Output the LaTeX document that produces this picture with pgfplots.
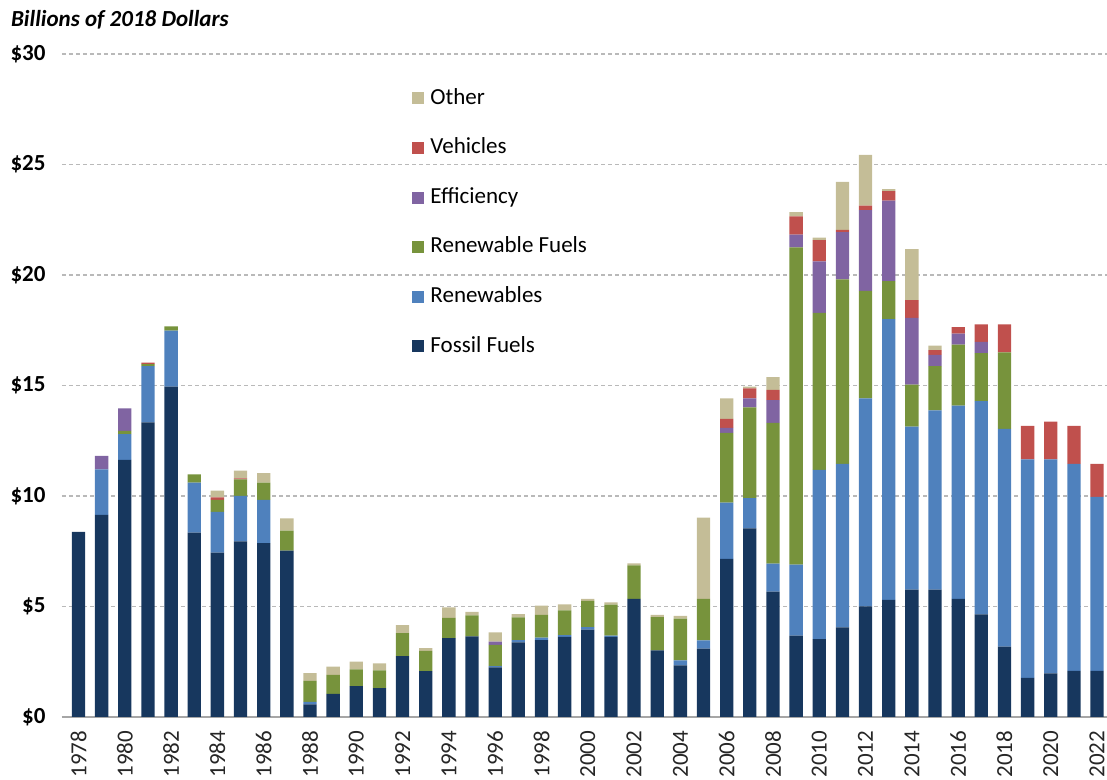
\documentclass[border=0pt]{standalone}
\usepackage{fontspec}
\setmainfont{Carlito}
\usepackage{pgfplots}
\usepackage{pgfplotstable}
\pgfplotsset{compat=1.18}
\definecolor{cfossil}{RGB}{23,55,94}
\definecolor{crenew}{RGB}{79,129,189}
\definecolor{crfuel}{RGB}{119,147,60}
\definecolor{ceff}{RGB}{128,100,162}
\definecolor{cveh}{RGB}{192,80,77}
\definecolor{cother}{RGB}{196,189,151}
\pgfplotstableread{
year fossil renew rfuel eff veh other
1978 8.38 0 0 0 0 0
1979 9.15 2.05 0 0.62 0 0
1980 11.63 1.17 0.15 1.02 0 0
1981 13.33 2.55 0.09 0 0.06 0
1982 14.95 2.53 0.2 0 0 0
1983 8.34 2.26 0.38 0 0 0
1984 7.44 1.84 0.54 0 0.12 0.3
1985 7.95 2.05 0.75 0 0.05 0.35
1986 7.87 1.95 0.78 0 0 0.43
1987 7.53 0 0.9 0 0 0.56
1988 0.57 0.11 0.96 0 0 0.34
1989 1.05 0 0.86 0 0 0.37
1990 1.4 0 0.76 0 0 0.34
1991 1.31 0 0.8 0 0 0.32
1992 2.76 0 1.03 0 0 0.37
1993 2.08 0 0.91 0 0 0.13
1994 3.57 0 0.91 0 0 0.48
1995 3.65 0 0.95 0 0 0.16
1996 2.25 0.05 0.96 0.15 0 0.42
1997 3.38 0.1 1.03 0 0 0.15
1998 3.48 0.11 1.03 0 0 0.42
1999 3.62 0.08 1.13 0 0 0.27
2000 3.95 0.12 1.18 0 0 0.1
2001 3.62 0.06 1.4 0 0 0.11
2002 5.35 0 1.51 0 0 0.09
2003 3.02 0 1.5 0 0 0.1
2004 2.34 0.22 1.89 0 0 0.12
2005 3.09 0.38 1.88 0 0 3.67
2006 7.15 2.55 3.16 0.22 0.41 0.93
2007 8.54 1.36 4.11 0.41 0.45 0.08
2008 5.67 1.27 6.37 1.03 0.46 0.58
2009 3.68 3.21 14.36 0.58 0.82 0.2
2010 3.52 7.66 7.11 2.33 0.96 0.11
2011 4.06 7.39 8.35 2.14 0.1 2.17
2012 5.0 9.42 4.86 3.65 0.21 2.29
2013 5.3 12.7 1.72 3.65 0.42 0.1
2014 5.76 7.38 1.9 3.02 0.8 2.31
2015 5.76 8.11 2.01 0.5 0.22 0.2
2016 5.35 8.74 2.76 0.5 0.29 0
2017 4.64 9.65 2.18 0.5 0.8 0
2018 3.18 9.86 3.46 0 1.27 0
2019 1.77 9.89 0 0 1.51 0
2020 1.97 9.69 0 0 1.71 0
2021 2.09 9.36 0 0 1.72 0
2022 2.09 7.87 0 0 1.49 0
}\datatable

\begin{document}
\begin{tikzpicture}
\begin{axis}[
  scale only axis, width=522.5pt, height=331.5pt,
  ybar stacked, bar width=0.575,
  xmin=1977.287, xmax=2022.43, ymin=0, ymax=30,
  enlargelimits=false,
  axis x line=bottom, axis y line=left,
  x axis line style={-, draw=gray!70, line width=0.8pt},
  y axis line style={draw=none},
  major tick length=0pt,
  ymajorgrids,
  grid style={dash pattern=on 2pt off 1.5pt, draw=gray!55, line width=0.6pt},
  ytick={0,5,10,15,20,25,30},
  yticklabels={\textbf{\$0},\textbf{\$5},\textbf{\$10},\textbf{\$15},\textbf{\$20},\textbf{\$25},\textbf{\$30}},
  yticklabel shift=4.7pt,
  xtick={1978,1980,...,2022},
  xticklabels={1978,1980,1982,1984,1986,1988,1990,1992,1994,1996,1998,2000,2002,2004,2006,2008,2010,2012,2014,2016,2018,2020,2022},
  xticklabel style={rotate=90, anchor=east, text=black!85},
  xticklabel shift=3.4pt,
  tick label style={font=\fontsize{11.5}{13.8}\selectfont},
  reverse legend,
  legend image code/.code={\fill[#1] (0pt,-3pt) rectangle (6pt,3pt);},
  legend style={at={(0.335,0.951)}, anchor=north west, draw=none, fill=none,
    inner sep=0pt, row sep=13.3pt, column sep=3pt,
    font=\fontsize{11.5}{13.8}\selectfont,
    nodes={inner sep=0pt, text height=8.6pt, text depth=2.9pt}},
  legend cell align=left,
]
\addplot[fill=cfossil, draw=none] table[x=year, y=fossil] {\datatable};
\addplot[fill=crenew, draw=none] table[x=year, y=renew] {\datatable};
\addplot[fill=crfuel, draw=none] table[x=year, y=rfuel] {\datatable};
\addplot[fill=ceff, draw=none] table[x=year, y=eff] {\datatable};
\addplot[fill=cveh, draw=none] table[x=year, y=veh] {\datatable};
\addplot[fill=cother, draw=none] table[x=year, y=other] {\datatable};
\legend{Fossil Fuels, Renewables, Renewable Fuels, Efficiency, Vehicles, Other}
\end{axis}
\node[anchor=base west, font=\fontsize{11.5}{13.8}\selectfont\bfseries\itshape] at (-29pt,345pt) {Billions of 2018 Dollars};
\pgfresetboundingbox
\useasboundingbox (-31pt,-31.5pt) rectangle (522.5pt,358.5pt);
\end{tikzpicture}
\end{document}
